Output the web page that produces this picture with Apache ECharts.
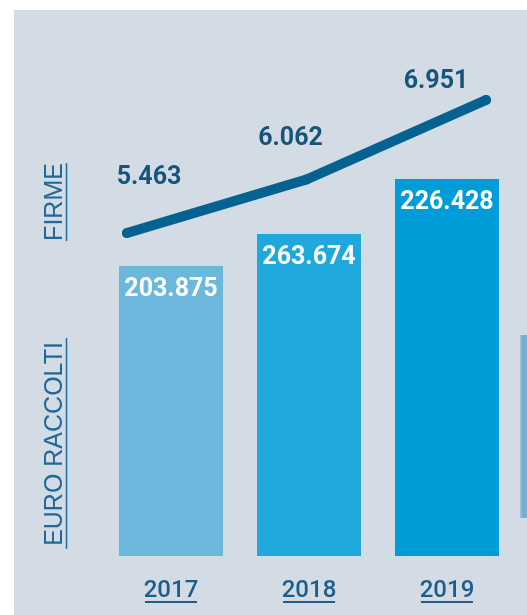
<!DOCTYPE html>
<html>
<head>
<meta charset="utf-8">
<script src="https://cdn.jsdelivr.net/npm/echarts@6/dist/echarts.min.js"></script>
<style>
html,body{margin:0;padding:0;background:#fff;}
#c{width:527px;height:615px;}
</style>
</head>
<body>
<div id="c"></div>
<script>
// ---- data ----
const years = ['2017', '2018', '2019'];
// visual bar heights as drawn in the infographic (not proportional to the labels)
const barHeights = [290, 322, 377];
const barLabels = ['203.875', '263.674', '226.428'];
const barColors = ['#6cb7dc', '#1ea8db', '#009cd8'];
const firme = [5.463, 6.062, 6.951];
const firmeLabels = ['5.463', '6.062', '6.951'];
const labelOffsets = [[22, -55], [-16, -41], [-50, -18]];

const chart = echarts.init(document.getElementById('c'), null, {renderer: 'canvas'});
const option = {
  backgroundColor: '#ffffff',
  animation: false,
  grid: [
    {left: 102, right: 11, top: 0, bottom: 59, outerBoundsMode: 'none', containLabel: false},
    {left: 127, right: 41, top: 95.6, bottom: 340.6, outerBoundsMode: 'none', containLabel: false}
  ],
  xAxis: [
    {type: 'category', gridIndex: 0, data: years,
     axisLine: {show: false}, axisTick: {show: false},
     axisLabel: {margin: 23, color: '#1b5d8c', fontFamily: 'Roboto', fontSize: 24, fontWeight: 500}},
    {type: 'category', gridIndex: 1, data: years, boundaryGap: false, show: false}
  ],
  yAxis: [
    {type: 'value', gridIndex: 0, min: 0, max: 556, show: false, splitLine: {show: false}},
    {type: 'value', gridIndex: 1, min: 5, max: 7, show: false, splitLine: {show: false}}
  ],
  graphic: [
    {type: 'rect', z: -10, shape: {x: 14, y: 10, width: 513, height: 605}, style: {fill: '#d3dbe4'}},
    {type: 'rect', z: -9, shape: {x: 520, y: 335, width: 7, height: 183}, style: {fill: '#78aed0'}},
    {type: 'rect', z: -9, shape: {x: 520, y: 335, width: 1.5, height: 183}, style: {fill: '#9cc2db'}},
    {type: 'text', x: 55, y: 202, rotation: Math.PI / 2,
     style: {text: 'FIRME', fill: '#1f6899', font: '25px "Liberation Sans"', align: 'center', verticalAlign: 'middle'}},
    {type: 'line', shape: {x1: 66.5, y1: 163, x2: 66.5, y2: 241}, style: {stroke: '#1f6899', lineWidth: 1.5}},
    {type: 'text', x: 55, y: 444, rotation: Math.PI / 2,
     style: {text: 'EURO RACCOLTI', fill: '#1f6899', font: '25px "Liberation Sans"', align: 'center', verticalAlign: 'middle'}},
    {type: 'line', shape: {x1: 66.5, y1: 338, x2: 66.5, y2: 549}, style: {stroke: '#1f6899', lineWidth: 1.5}}
  ],
  series: [
    {type: 'bar', xAxisIndex: 0, yAxisIndex: 0, barWidth: 104,
     data: barHeights.map((v, i) => ({value: v, itemStyle: {color: barColors[i]},
       label: {formatter: barLabels[i]}})),
     label: {show: true, position: 'insideTop', distance: 11, color: '#ffffff',
       fontFamily: 'Roboto', fontWeight: 'bold', fontSize: 25}
    },
    {type: 'line', xAxisIndex: 1, yAxisIndex: 1, z: 5,
     data: firme.map((v, i) => ({value: v, label: {formatter: firmeLabels[i], offset: labelOffsets[i]}})),
     symbol: 'circle', symbolSize: 10, showSymbol: true,
     itemStyle: {color: '#03628f'},
     lineStyle: {color: '#03628f', width: 10, cap: 'round', join: 'round'},
     label: {show: true, position: 'inside', align: 'center', verticalAlign: 'middle',
       color: '#16557a', fontFamily: 'Roboto', fontWeight: 'bold', fontSize: 25}
    }
  ]
};
chart.setOption(option);

// underline the year labels at their axis positions
const underlines = years.map((y, i) => {
  const px = chart.convertToPixel({xAxisIndex: 0}, y);
  return {type: 'line', shape: {x1: px - 26, y1: 602, x2: px + 26, y2: 602},
          style: {stroke: '#1b5d8c', lineWidth: 2}};
});
chart.setOption({graphic: option.graphic.concat(underlines)});
</script>
</body>
</html>
